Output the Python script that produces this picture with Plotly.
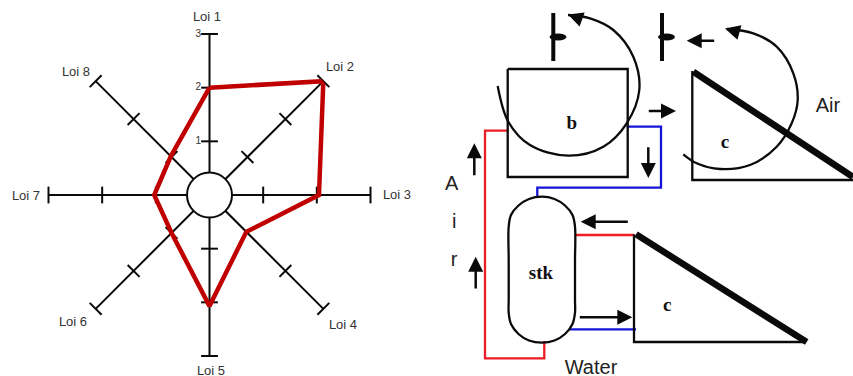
import plotly.graph_objects as go

W, H = 853, 376

# radar data
lois = ["Loi 1", "Loi 2", "Loi 3", "Loi 4", "Loi 5", "Loi 6", "Loi 7", "Loi 8"]
scores = [2, 3, 2.04, 0.97, 2.07, 1, 1.03, 1.02]
scale_ticks = [1, 2, 3]
scale_labels = ["1", "2", "3"]
spoke_ends = [0, 3]

# radar and schematic labels
label_x = [207, 340, 397, 343, 211, 73, 26, 76]
label_y = [17.5, 67.5, 195.5, 325.5, 371.5, 322.5, 196.5, 72.5]

# schematic outlines (pixels of the picture)
box_x = [507.7, 627.7, 627.7, 507.7, 507.7]
box_y = [69, 69, 177, 177, 69]
fan1_x = [553.3, 553.3]
fan1_y = [13, 61]
fan2_x = [662, 662]
fan2_y = [13, 61]
tri1_x = [692.3, 692.3, 853]
tri1_y = [71, 180, 180]
tri1_top_x = [693.3, 853]
tri1_top_y = [71.7, 177]
tri2_x = [634, 634, 805]
tri2_y = [234.3, 342, 342]
tri2_top_x = [636, 806.7]
tri2_top_y = [234.3, 342]

tank_x = [541.8, 554.5, 565, 572.5, 575, 575, 575, 575, 575, 572.5, 565, 554.5, 541.8,
          529, 518.5, 511, 508.7, 508.7, 508.7, 508.7, 508.7, 511, 518.5, 529, 541.8]
tank_y = [196.7, 199, 205.5, 215, 226.7, 260, 285, 300, 312.7, 324, 334, 340.5, 342.7,
          340.5, 334, 324, 312.7, 300, 285, 260, 226.7, 215, 205.5, 199, 196.7]

curve1_x = [497.7, 508.3, 530, 568.3, 603.3, 626.7, 639.3, 633.3, 613.3, 590, 568]
curve1_y = [86, 121.7, 145, 155.7, 146.7, 123.3, 90, 56.7, 30, 18.3, 15]
curve2_x = [683.3, 696.7, 720, 750, 776.7, 791.7, 797.7, 793.3, 776.7, 753.3, 727]
curve2_y = [154.3, 163.3, 169, 165, 146.7, 123.3, 100, 73.3, 46.7, 33.3, 29]

red1_x = [508.3, 485, 485, 544.3, 544.3]
red1_y = [130.7, 130.7, 358.3, 358.3, 341]
red2_x = [575, 634]
red2_y = [235, 235]
blue1_x = [626.7, 661, 661, 537.3, 537.3]
blue1_y = [126.7, 126.7, 187.7, 187.7, 197.7]
blue2_x = [570, 636]
blue2_y = [329.3, 329.3]

# x0, y0, x1, y1 of the arrows
arrows = [
    (647.3, 111, 676, 111),
    (715.7, 40.7, 686.7, 40.7),
    (648.3, 145.7, 648.3, 178),
    (474.3, 176.7, 474.3, 143.3),
    (475.7, 290, 475.7, 256.7),
    (629.3, 221.7, 580.7, 221.7),
    (578.3, 317.3, 632.3, 317.3),
    (575, 17, 568, 14.5),
    (734, 31, 725, 28.5),
]

texts_sans = ["Air", "A", "i", "r", "Water"]
sans_x = [828, 451.7, 454.3, 454, 591]
sans_y = [107, 185, 223, 260.7, 369]
texts_serif = ["b", "c", "stk", "c"]
serif_x = [571.7, 725, 541, 667.3]
serif_y = [124.2, 143.5, 274.2, 305.8]

BLACK = "#0a0a0a"
RED = "#c00000"
LINE_RED = "#ee1c25"
LINE_BLUE = "#1414d8"

fig = go.Figure()

# radar spokes
for loi in lois:
    fig.add_trace(go.Scatterpolar(r=spoke_ends, theta=[loi, loi], mode="lines",
                                  line=dict(color=BLACK, width=2)))

# graduations, turned square to each spoke
for i, loi in enumerate(lois):
    fig.add_trace(go.Scatterpolar(
        r=scale_ticks, theta=[loi] * len(scale_ticks),
        mode="markers+text" if i == 0 else "markers",
        text=scale_labels if i == 0 else None,
        textposition="middle left",
        textfont=dict(family="Liberation Sans", size=10, color="#333333"),
        marker=dict(symbol="line-ew", size=12, angle=i * 45,
                    line=dict(color=BLACK, width=2)),
        cliponaxis=False))

fig.add_trace(go.Scatterpolar(r=scores + scores[:1], theta=lois + lois[:1], mode="lines",
                              line=dict(color=RED, width=4.5), cliponaxis=False))

# white hub in the middle
fig.add_trace(go.Scatterpolar(r=[0], theta=[lois[0]], mode="markers",
                              marker=dict(size=45, color="white",
                                          line=dict(color=BLACK, width=2))))

fig.add_trace(go.Scatter(x=label_x, y=label_y, text=lois, mode="text",
                         textfont=dict(family="Liberation Sans", size=13, color="#333333")))

# schematic
def outline(x, y, color=BLACK, width=2.3, shape="linear"):
    fig.add_trace(go.Scatter(x=x, y=y, mode="lines",
                             line=dict(color=color, width=width, shape=shape)))

outline(red1_x, red1_y, LINE_RED, 2.3)
outline(red2_x, red2_y, LINE_RED, 2.3)
outline(blue1_x, blue1_y, LINE_BLUE, 2.3)
outline(blue2_x, blue2_y, LINE_BLUE, 2.3)
outline(box_x, box_y)
outline(fan1_x, fan1_y, width=4)
outline(fan2_x, fan2_y, width=4)
outline(tri1_x, tri1_y)
outline(tri2_x, tri2_y)
outline(tri1_top_x, tri1_top_y, width=6.5)
outline(tri2_top_x, tri2_top_y, width=6.5)
outline(tank_x, tank_y, shape="spline")
outline(curve1_x, curve1_y, shape="spline")
outline(curve2_x, curve2_y, shape="spline")

fig.add_trace(go.Scatter(x=sans_x, y=sans_y, text=texts_sans, mode="text",
                         textfont=dict(family="Liberation Sans", size=20, color="#222222")))
fig.add_trace(go.Scatter(x=serif_x, y=serif_y, text=texts_serif, mode="text",
                         textfont=dict(family="Liberation Serif", size=19, color="#111111",
                                       weight="bold")))

for x0, y0, x1, y1 in arrows:
    fig.add_annotation(x=x1, y=y1, ax=x0, ay=y0, xref="x", yref="y", axref="x", ayref="y",
                       text="", showarrow=True, arrowhead=2, arrowwidth=2.5, arrowsize=1.2,
                       arrowcolor=BLACK)

# the little blades on the two fans
for cx in (558, 666.5):
    fig.add_shape(type="circle", xref="x", yref="y", x0=cx - 8.5, x1=cx + 8.5, y0=33.5, y1=40.5,
                  fillcolor=BLACK, line=dict(width=0))

fig.update_layout(
    width=W, height=H,
    margin=dict(l=0, r=0, t=0, b=0),
    paper_bgcolor="white",
    plot_bgcolor="rgba(0,0,0,0)",
    showlegend=False,
    hovermode=False,
    xaxis=dict(range=[0, W], visible=False, domain=[0, 1]),
    yaxis=dict(range=[H, 0], visible=False, domain=[0, 1]),
    polar=dict(
        domain=dict(x=[48.5 / W, 370.5 / W], y=[1 - 356 / H, 1 - 34 / H]),
        bgcolor="rgba(0,0,0,0)",
        radialaxis=dict(range=[0, 3], visible=False),
        angularaxis=dict(type="category", categoryarray=lois, direction="clockwise",
                         rotation=90, visible=False),
    ),
)

# the page's default body margin would push the figure off by 8px
fig.write_html("out.html", config={"displayModeBar": False},
               post_script="document.body.style.margin = '0';")
